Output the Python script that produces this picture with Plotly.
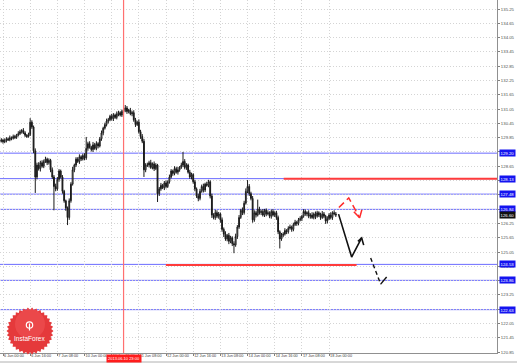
import numpy as np
import plotly.graph_objects as go

# ---------------- data (EUR/JPY H1, trading-hour index since 6 Jun 00:00) ----------------
first_open = 129.72
close = [
    129.70,129.75,129.68,129.72,129.80,129.76,129.85,129.82,129.90,129.86,129.95,130.02,
    130.10,130.15,130.05,129.95,129.90,129.98,
    130.50, 130.30, 129.30, 128.20,
    128.70,128.55,128.80,128.65,
    128.85,128.95,128.80,128.90,
    128.50,128.20,127.80,127.70,
    128.10,128.45,128.20,
    127.60,127.20,126.90,
    126.50,
    127.20,127.90,128.50,128.70,128.95,
    128.85,129.05,128.95,129.10,129.00,
    129.40,
    129.60,129.45,129.35,129.55,129.40,129.60,129.50,
    129.80,130.05,130.25,130.40,130.55,
    130.60,130.75,130.65,130.80,130.70,130.85,130.90,130.80,130.95,131.00,
    131.10,
    130.95,131.00,130.85,130.90,
    130.60,130.40,130.50,130.10,129.90,129.70,
    128.50,128.70,
    128.70,128.80,128.60,128.75,128.55,128.70,
    127.50,
    127.70,127.85,127.75,127.95,127.80,128.00,
    128.20,128.45,128.35,128.55,128.40,128.50,128.60,
    128.70,
    128.85,
    128.60,128.70,128.40,128.20,128.30,128.00,
    127.70,127.40,127.30,
    127.60,127.80,127.65,127.90,127.85,
    128.00,
    127.40,126.60,126.50,126.70,
    126.55,126.65,126.40,
    126.00,125.80,125.60,125.75,125.50,125.65,125.40,125.35,125.70,
    126.10,126.50,126.80,126.70,127.10,
    127.60,127.80,127.50,
    127.30,
    126.40,
    126.70,126.60,126.85,126.70,126.75,126.60,126.80,126.65,126.70,126.55,126.75,126.60,126.70,126.50,
    125.90,125.60,125.75,
    125.80,125.95,125.90,126.05,126.10,126.00,126.20,126.30,126.25,126.40,126.45,126.55,
    126.75,126.65,126.70,
    126.55,126.60,126.50,126.65,126.55,126.70,126.60,126.50,126.65,126.55,126.35,126.45,126.60,126.50,126.70,126.65,126.60,
]
up_wick = [
    .06,.08,.05,.10,.07,.06,.09,.05,.08,.07,.06,.10,
    .08,.06,.10,.07,.05,.08,
    .17,.08,.06,.10,
    .10,.12,.08,.10,
    .08,.10,.06,.08,
    .06,.10,.08,.12,
    .10,.08,.06,
    .08,.06,.05,
    .06,
    .10,.08,.12,.06,.08,
    .08,.10,.06,.08,.10,
    .48,
    .08,.10,.06,.12,.08,.10,.06,
    .08,.10,.06,.08,.10,
    .08,.06,.10,.08,.06,.10,.08,.06,.08,.06,
    .12,
    .08,.06,.10,.08,
    .10,.08,.06,.12,.08,.10,
    .10,.08,
    .10,.08,.12,.06,.10,.08,
    .05,
    .08,.10,.06,.08,.10,.06,
    .10,.08,.06,.10,.08,.12,.06,
    .10,
    .40,
    .10,.08,.06,.10,.08,.06,
    .08,.06,.10,
    .10,.08,.12,.06,.10,
    .08,
    .06,.10,.08,.12,
    .10,.08,.06,
    .10,.08,.12,.06,.10,.08,.06,.10,.12,
    .08,.10,.06,.12,.10,
    .12,.27,.10,
    .08,
    .10,
    .10,.08,.40,.10,.08,.10,.06,.08,.10,.06,.08,.10,.06,.08,
    .08,.06,.10,
    .08,.10,.06,.08,.10,.06,.08,.10,.06,.08,.10,.06,
    .10,.08,.06,
    .10,.08,.12,.06,.10,.08,.06,.10,.12,.08,.06,.10,.08,.12,.06,.10,.08,
]
dn_wick = [
    .06,.05,.08,.06,.07,.05,.06,.08,.05,.07,.06,.05,
    .06,.08,.05,.07,.06,.05,
    .06,.08,.10,.67,
    .10,.08,.12,.06,
    .08,.06,.10,.08,
    .10,.08,1.0,.10,
    .08,.10,.06,
    .10,.08,.12,
    .32,
    .10,.08,.06,.10,.08,
    .06,.10,.08,.06,.10,
    .08,
    .10,.06,.08,.10,.06,.08,.10,
    .06,.08,.10,.06,.08,
    .10,.06,.08,.10,.06,.08,.10,.06,.08,.10,
    .08,
    .10,.08,.06,.10,
    .08,.10,.06,.08,.10,.08,
    .30,.10,
    .08,.10,.06,.08,.10,.06,
    .35,
    .10,.08,.06,.10,.08,.06,
    .08,.06,.10,.08,.06,.10,.08,
    .06,
    .08,
    .08,.10,.06,.08,.10,.08,
    .10,.08,.12,
    .08,.06,.10,.08,.06,
    .08,
    .10,.12,.08,.10,
    .08,.10,.12,
    .10,.12,.08,.10,.12,.08,.10,.35,.08,
    .10,.08,.06,.10,.08,
    .06,.08,.10,
    .08,
    .12,
    .08,.10,.06,.08,.10,.06,.08,.10,.06,.08,.10,.06,.08,.10,
    .10,.40,.08,
    .08,.06,.10,.08,.06,.10,.08,.06,.10,.08,.06,.10,
    .06,.08,.10,
    .08,.10,.06,.08,.12,.06,.08,.10,.06,.08,.12,.10,.06,.08,.10,.06,.08,
]
hour_index = list(range(-2, -2 + len(close)))

x_tick_idx = [0, 16, 32, 48, 64, 80, 96, 112, 128, 144, 160, 176, 192]
x_tick_text = ["6 Jun 00:00", "6 Jun 16:00", "7 Jun 08:00", "10 Jun 00:00", "10 Jun 16:00",
               "11 Jun 08:00", "12 Jun 00:00", "12 Jun 16:00", "13 Jun 08:00", "14 Jun 00:00",
               "14 Jun 16:00", "17 Jun 08:00", "18 Jun 00:00"]
y_tick_text = ["120.85", "121.45", "122.05", "122.65", "123.25", "123.85", "124.45", "125.05",
               "125.65", "126.25", "126.85", "127.45", "128.05", "128.65", "129.25", "129.85",
               "130.45", "131.05", "131.65", "132.25", "132.85", "133.45", "134.05", "134.65", "135.25"]

blue_levels = [129.20, 128.13, 127.48, 126.84, 124.53, 123.86, 122.63]
red_upper_level, red_upper_from = 128.13, 165.3
red_lower_level, red_lower_from, red_lower_to = 124.50, 95.9, 208.2
crosshair_idx, crosshair_text = 71.0, "2013.06.10 23:00"

# forecast drawings (index, price)
black_path_x, black_path_y = [197.6, 205.3, 211.2], [126.64, 124.84, 125.64]
black_head_x, black_head_y = [209.0, 211.2, 212.4], [125.50, 125.64, 125.34]
black_dash_x, black_dash_y = [216.5, 222.4], [124.80, 123.70]
black_tail_x, black_tail_y = [222.4, 225.9], [123.70, 124.00]
red_path_x, red_path_y = [197.8, 203.6, 210.0], [126.92, 127.32, 126.49]
red_head_x, red_head_y = [206.6, 210.0, 211.3], [126.74, 126.49, 126.82]

# ---------------- derived OHLC ----------------
opens = [first_open] + close[:-1]
highs = [max(o, c) + u for o, c, u in zip(opens, close, up_wick)]
lows = [min(o, c) - d for o, c, d in zip(opens, close, dn_wick)]

W, H = 519, 363
ML, MR, MT, MB = 0, 22, 0, 10
PW, PH = W - ML - MR, H - MT - MB

fig = go.Figure()
fig.add_trace(go.Candlestick(
    x=hour_index, open=opens, high=highs, low=lows, close=close,
    increasing=dict(line=dict(color="#1a1a1a", width=1), fillcolor="#ffffff"),
    decreasing=dict(line=dict(color="#1a1a1a", width=1), fillcolor="#1a1a1a"),
    whiskerwidth=0, hoverinfo="skip", showlegend=False))

def line_trace(xs, ys, color, width, dash="solid"):
    fig.add_trace(go.Scatter(x=xs, y=ys, mode="lines", line=dict(color=color, width=width, dash=dash),
                             hoverinfo="skip", showlegend=False))

line_trace(black_path_x, black_path_y, "#111111", 1.6)
line_trace(black_head_x, black_head_y, "#111111", 1.6)
line_trace(black_dash_x, black_dash_y, "#111111", 1.4, "4px,3px")
line_trace(black_tail_x, black_tail_y, "#111111", 1.4)
line_trace(red_path_x, red_path_y, "#ff2a2a", 1.5, "7px,4px")
line_trace(red_head_x, red_head_y, "#ff2a2a", 1.5)

shapes = []
for lv in blue_levels:
    shapes.append(dict(type="line", xref="paper", x0=0, x1=1, yref="y", y0=lv, y1=lv,
                       line=dict(color="#6b6bff", width=1), layer="below"))
shapes.append(dict(type="line", xref="x", x0=red_upper_from, x1=400, yref="y",
                   y0=red_upper_level, y1=red_upper_level, line=dict(color="#ff3b3b", width=2)))
shapes.append(dict(type="line", xref="x", x0=red_lower_from, x1=red_lower_to, yref="y",
                   y0=red_lower_level, y1=red_lower_level, line=dict(color="#ff3b3b", width=2)))
shapes.append(dict(type="line", xref="x", x0=crosshair_idx, x1=crosshair_idx, yref="paper", y0=0, y1=1,
                   line=dict(color="#ff7070", width=1.2), layer="above"))
# window bottom border
shapes.append(dict(type="line", xref="paper", x0=0, x1=(W - 2) / PW, yref="paper",
                   y0=-(362 - PH) / PH, y1=-(362 - PH) / PH, line=dict(color="#b0b0b0", width=1)))

# InstaForex badge (decoration) in pixel -> paper coords
cx, cy, r_out, r_in, n = 30.0, 331.0, 23.5, 21.3, 34
ang = np.linspace(0, 2 * np.pi, 2 * n, endpoint=False)
rad = np.where(np.arange(2 * n) % 2 == 0, r_out, r_in)
px = cx + rad * np.cos(ang)
py = cy + rad * np.sin(ang)
path = "M " + " L ".join(f"{x / PW:.5f},{1 - y / PH:.5f}" for x, y in zip(px, py)) + " Z"
shapes.append(dict(type="path", xref="paper", yref="paper", path=path,
                   fillcolor="#e5393b", line=dict(width=0), layer="above"))
hx, hy, hr = 30.0, 324.0, 15.0
shapes.append(dict(type="circle", xref="paper", yref="paper",
                   x0=(hx - hr) / PW, x1=(hx + hr) / PW, y0=1 - (hy + hr) / PH, y1=1 - (hy - hr) / PH,
                   fillcolor="rgba(255,120,120,0.25)", line=dict(width=0), layer="above"))
ix, iy, ir = 29.5, 325.0, 3.2
shapes.append(dict(type="circle", xref="paper", yref="paper",
                   x0=(ix - ir) / PW, x1=(ix + ir) / PW, y0=1 - (iy + ir) / PH, y1=1 - (iy - ir) / PH,
                   fillcolor="rgba(0,0,0,0)", line=dict(color="white", width=1.2), layer="above"))
shapes.append(dict(type="line", xref="paper", yref="paper",
                   x0=ix / PW, x1=ix / PW, y0=1 - (iy - 1.5) / PH, y1=1 - (iy + 5.5) / PH,
                   line=dict(color="white", width=1.2), layer="above"))

annotations = [
    dict(text="InstaForex", xref="paper", yref="paper", x=29.5 / PW, y=1 - 338.5 / PH,
         showarrow=False, font=dict(family="Liberation Sans", size=6.5, color="white"),
         xanchor="center", yanchor="middle"),
    dict(text=crosshair_text, xref="x", yref="paper", x=crosshair_idx, y=0, yshift=-1,
         showarrow=False, font=dict(family="Liberation Sans", size=4, color="white"),
         bgcolor="#ff1c1c", borderpad=1, xanchor="center", yanchor="top"),
]
for lv in blue_levels:
    annotations.append(dict(text=f"{lv:.2f}", xref="paper", yref="y", x=1, y=lv, xshift=2,
                            showarrow=False, font=dict(family="Liberation Sans", size=4.3, color="white"),
                            bgcolor="#1414f0", borderpad=0.6, xanchor="left", yanchor="middle"))
annotations.append(dict(text=f"{close[-1]:.2f}", xref="paper", yref="y", x=1, y=close[-1], xshift=2,
                        showarrow=False, font=dict(family="Liberation Sans", size=4.3, color="white"),
                        bgcolor="#111111", borderpad=0.6, xanchor="left", yanchor="middle"))

GRID_DASH = "1px,2px"
fig.update_layout(
    width=W, height=H, margin=dict(l=ML, r=MR, t=MT, b=MB),
    paper_bgcolor="white", plot_bgcolor="white",
    shapes=shapes, annotations=annotations, showlegend=False,
    xaxis=dict(range=[-1.77, 290.9], rangeslider=dict(visible=False),
               tickmode="array", tickvals=x_tick_idx, ticktext=x_tick_text, tickangle=0,
               ticklabelposition="outside right", ticks="outside", ticklen=2, tickcolor="#808080",
               ticklabelstandoff=-2,
               tickfont=dict(family="Liberation Sans", size=3.8, color="#404040"),
               showgrid=True, gridcolor="#d4d4d4", griddash=GRID_DASH, gridwidth=1,
               showline=True, linecolor="#909090", linewidth=1, zeroline=False, automargin=False,
               fixedrange=True),
    yaxis=dict(range=[120.81, 135.63], side="right",
               tickmode="array", tickvals=[float(t) for t in y_tick_text], ticktext=y_tick_text,
               ticks="outside", ticklen=2, tickcolor="#808080",
               tickfont=dict(family="Liberation Sans", size=4.3, color="#505050"),
               showgrid=True, gridcolor="#d4d4d4", griddash=GRID_DASH, gridwidth=1,
               showline=True, linecolor="#909090", linewidth=1, zeroline=False, automargin=False,
               fixedrange=True),
)
fig.write_html("out.html")
